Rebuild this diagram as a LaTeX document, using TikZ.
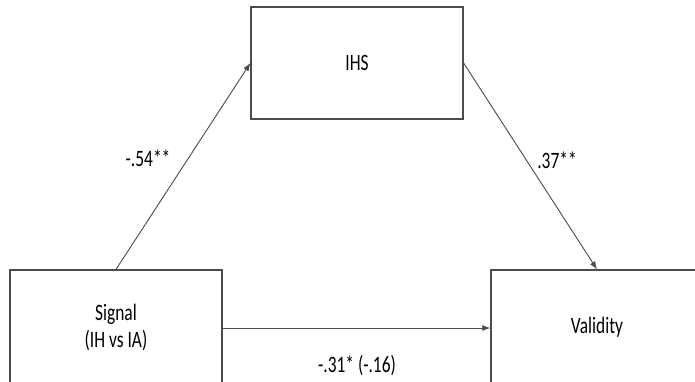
\documentclass[tikz,border=0pt]{standalone}
\usepackage{fontspec}
\setmainfont{Carlito}[FakeStretch=0.74]
\usetikzlibrary{arrows.meta}
\definecolor{linecol}{RGB}{75,75,75}
\begin{document}
\begin{tikzpicture}[x=1pt,y=-1pt,
  box/.style={draw=linecol, line width=1.2pt, minimum width=212pt, minimum height=112pt, inner sep=0pt, align=center, font=\fontsize{23.5}{27}\selectfont},
  conn/.style={draw=linecol, line width=0.9pt, -{Latex[length=8pt,width=6pt]}},
  lab/.style={inner sep=0pt, font=\fontsize{23.5}{27}\selectfont}]
\useasboundingbox (0,0) rectangle (695,381);
\fill[white] (0,0) rectangle (695,381);
\node[box] (ihs) at (357,63) {IHS};
\node[box, minimum height=114pt] (sig) at (116,327) {Signal\\(IH vs IA)};
\node[box, minimum height=114pt] (val) at (597,327) {Validity};
\draw[conn] (sig.north) -- (ihs.west);
\draw[conn] (ihs.east) -- (val.north);
\draw[conn] (sig.east |- 0,328) coordinate (hs) -- (val.west |- 0,328);
\node[lab] (la) at (148,158) {-.54**};
\node[lab] (lb) at (557,160) {.37**};
\node[lab] (lc) at (357,366) {-.31* (-.16)};
\end{tikzpicture}
\end{document}
